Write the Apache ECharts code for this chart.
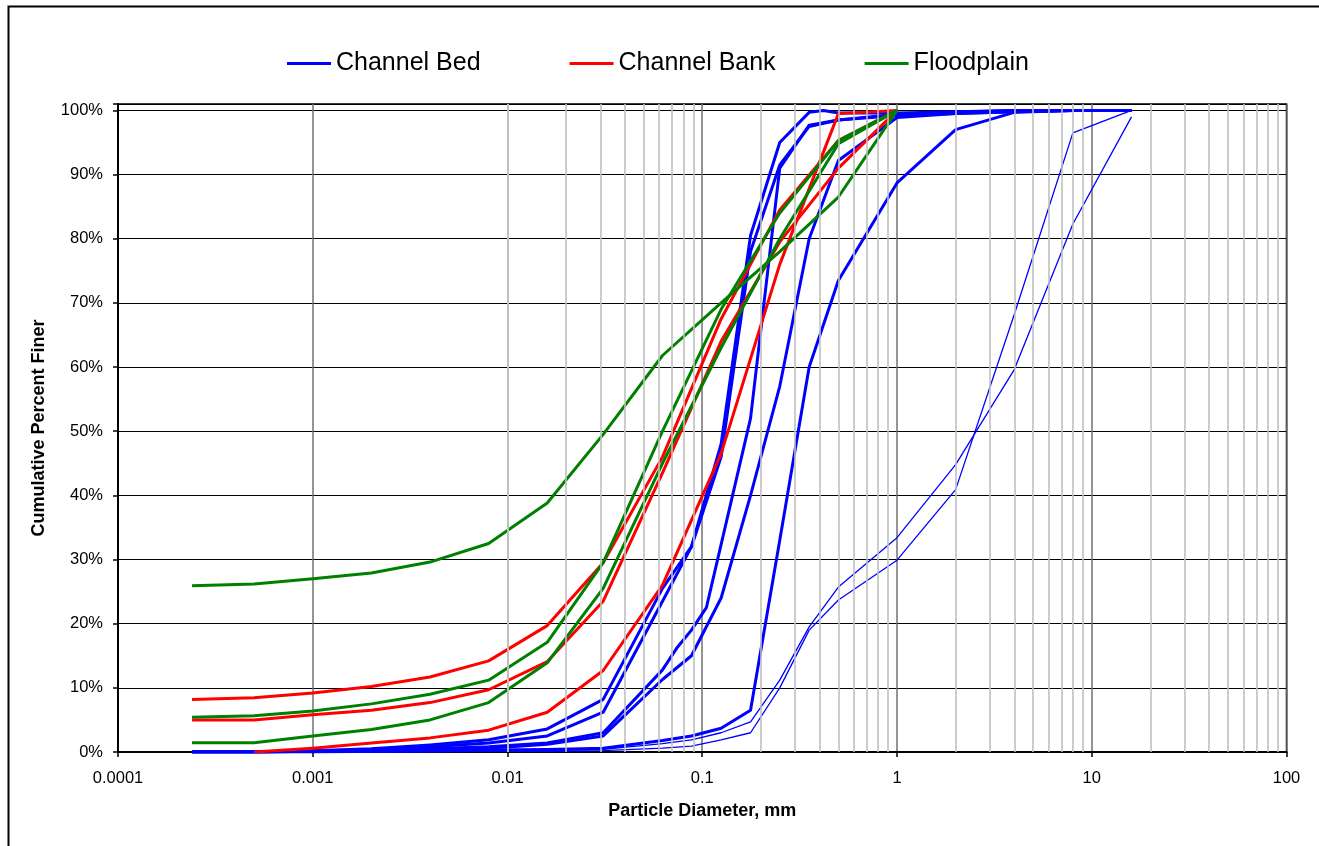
<!DOCTYPE html>
<html>
<head>
<meta charset="utf-8">
<script src="https://cdn.jsdelivr.net/npm/echarts@6/dist/echarts.min.js"></script>
<style>
html,body{margin:0;padding:0;background:#fff;}
#chart{width:1319px;height:846px;}
</style>
</head>
<body>
<div id="chart"></div>
<script>
// ---- data ----
const legendNames = ['Channel Bed', 'Channel Bank', 'Floodplain'];
const xTickLabels = ['0.0001', '0.001', '0.01', '0.1', '1', '10', '100'];
const minorGridValues = [];
for (let e = -4; e < 2; e++) { for (let k = 2; k <= 9; k++) { minorGridValues.push(k * Math.pow(10, e)); } }

// Channel Bank / Floodplain sample sizes (mm)
const fineSizes = [0.00024, 0.0005, 0.001, 0.002, 0.004, 0.008, 0.016, 0.031, 0.0625, 0.125, 0.25, 0.5, 1];
const bank1 = [8.2, 8.45, 9.2, 10.2, 11.7, 14.2, 19.7, 29.5, 46, 67.5, 84.5, 95.3, 100];
const bank2 = [5.0, 5.0, 5.8, 6.5, 7.7, 9.7, 14.1, 23.5, 43.5, 64, 79.5, 91, 100];
const bank3 = [null, 0, 0.6, 1.4, 2.2, 3.4, 6.2, 12.7, 26, 46.5, 76, 99.5, 100];
const flood1 = [25.9, 26.2, 27, 27.9, 29.6, 32.5, 38.8, 49.5, 61.8, 70, 78, 86.5, 100];
const flood2 = [5.4, 5.65, 6.4, 7.5, 9.0, 11.2, 17.1, 29.5, 50, 69, 84, 95.3, 100];
const flood3 = [1.45, 1.45, 2.5, 3.5, 5.0, 7.7, 13.9, 25.5, 45, 63, 80, 94.8, 100];

// Channel Bed sample sizes (mm)
const bedSizes = [0.00024, 0.0005, 0.001, 0.002, 0.004, 0.008, 0.016, 0.031, 0.0625, 0.074, 0.088, 0.105, 0.125, 0.149, 0.177, 0.25, 0.354, 0.42, 0.5, 1, 2, 4, 8, 16];
const bed1 = [0, 0, 0.2, 0.5, 1.1, 1.9, 3.6, 8.2, 25.5, null, 32, null, 48, null, 80.5, 95, 99.7, 100, 99.6, 99.6, 99.8, 100, 100, 100];
const bed2 = [0, 0, 0.1, 0.4, 0.8, 1.4, 2.5, 6.2, 23.5, null, 32, null, 46, null, 78, 91.5, 97.5, null, 98.5, 99.4, 99.7, 100, 100, 100];
const bed3 = [0, 0, 0.1, 0.2, 0.5, 0.8, 1.4, 3.0, 12.8, 16.2, 19, 22.5, null, null, 52, 91, 97.7, null, 98.5, 99.2, 99.5, 99.8, 100, 100];
const bed4 = [0, 0, 0.1, 0.2, 0.4, 0.6, 1.2, 2.5, 11.3, null, 15, null, 24, null, 40, 57, 80, null, 92.2, 98.9, 99.5, 99.8, 100, 100];
const bed5 = [0, 0, 0, 0.1, 0.2, 0.3, 0.4, 0.6, 1.8, null, 2.5, null, 3.7, null, 6.5, 33, 60, null, 73.5, 88.7, 97, 99.7, 100, 100];
const bed6 = [0, 0, 0, 0, 0.1, 0.1, 0.2, 0.4, 1.3, null, 1.9, null, 3.0, null, 4.7, 11.2, 19.5, null, 25.7, 33.4, 44.8, 59.6, 82.3, 99];
const bed7 = [0, 0, 0, 0, 0, 0.1, 0.1, 0.2, 0.6, null, 0.9, null, 1.9, null, 3.0, 10, 19, null, 23.7, 29.9, 40.9, 68.2, 96.5, 100];

// ---- build ----
function pairs(sizes, vals) {
  const out = [];
  for (let i = 0; i < sizes.length; i++) { if (vals[i] !== null) out.push([sizes[i], vals[i]]); }
  return out;
}
const BLUE = '#0000ff', RED = '#ff0000', GREEN = '#008000';
function curve(name, color, width, sizes, vals) {
  return {
    name: name, type: 'line', color: color, data: pairs(sizes, vals),
    showSymbol: false, symbol: 'none', silent: true, z: 3,
    lineStyle: { color: color, width: width, join: 'round' },
    itemStyle: { color: color }
  };
}
const series = [
  {
    type: 'line', data: [], silent: true, z: -1,
    markLine: {
      silent: true, symbol: 'none', animation: false,
      label: { show: false },
      lineStyle: { color: '#c0c0c0', width: 1.6, type: 'solid' },
      data: minorGridValues.map(v => ({ xAxis: v }))
    }
  },
  curve(legendNames[0], BLUE, 3, bedSizes, bed1),
  curve(legendNames[0], BLUE, 3, bedSizes, bed2),
  curve(legendNames[0], BLUE, 3, bedSizes, bed3),
  curve(legendNames[0], BLUE, 3, bedSizes, bed4),
  curve(legendNames[0], BLUE, 3, bedSizes, bed5),
  curve(legendNames[0], BLUE, 1.3, bedSizes, bed6),
  curve(legendNames[0], BLUE, 1.3, bedSizes, bed7),
  curve(legendNames[1], RED, 3, fineSizes, bank1),
  curve(legendNames[1], RED, 3, fineSizes, bank2),
  curve(legendNames[1], RED, 3, fineSizes, bank3),
  curve(legendNames[2], GREEN, 3, fineSizes, flood1),
  curve(legendNames[2], GREEN, 3, fineSizes, flood2),
  curve(legendNames[2], GREEN, 3, fineSizes, flood3)
];

const chart = echarts.init(document.getElementById('chart'), null, { renderer: 'canvas' });
chart.setOption({
  animation: false,
  backgroundColor: '#fff',
  textStyle: { fontFamily: 'Liberation Sans, Arial, sans-serif' },
  graphic: [{
    type: 'rect', left: 6, top: 4, silent: true,
    shape: { width: 1330, height: 860 },
    style: { fill: 'none', stroke: '#000', lineWidth: 2 }
  }],
  legend: {
    data: legendNames, left: 282, top: 46, itemGap: 89, itemWidth: 44, itemHeight: 3,
    icon: 'rect', selectedMode: false,
    textStyle: { fontSize: 25, color: '#000', fontFamily: 'Liberation Sans, Arial, sans-serif' }
  },
  grid: { left: 118, right: 32.5, top: 104, bottom: 94, show: true, borderColor: '#000', borderWidth: 1.5, backgroundColor: 'transparent' },
  xAxis: {
    type: 'log', logBase: 10, min: 0.0001, max: 100,
    name: 'Particle Diameter, mm', nameLocation: 'middle', nameGap: 50,
    nameTextStyle: { fontSize: 18, fontWeight: 'bold', color: '#000' },
    axisLine: { show: true, onZero: false, lineStyle: { color: '#000', width: 2 } },
    axisTick: { show: true, length: 5, lineStyle: { color: '#000', width: 1.5 } },
    axisLabel: {
      fontSize: 16.5, color: '#000', margin: 18,
      formatter: v => xTickLabels[Math.round(Math.log10(v)) + 4]
    },
    splitLine: { show: true, lineStyle: { color: '#707070', width: 1.5 } },
    minorTick: { show: false }, minorSplitLine: { show: false }
  },
  yAxis: {
    type: 'value', min: 0, max: 101, interval: 10,
    name: 'Cumulative Percent Finer', nameLocation: 'middle', nameGap: 70, nameRotate: 90,
    nameTextStyle: { fontSize: 18, fontWeight: 'bold', color: '#000' },
    axisLine: { show: true, lineStyle: { color: '#000', width: 2 } },
    axisTick: { show: true, length: 5, lineStyle: { color: '#000', width: 1.5 } },
    axisLabel: {
      fontSize: 16.5, color: '#000', margin: 15,
      formatter: v => (Math.round(v) % 10 === 0 ? Math.round(v) + '%' : '')
    },
    splitLine: { show: true, lineStyle: { color: '#000', width: 1.2 } }
  },
  series: series
});
</script>
</body>
</html>
